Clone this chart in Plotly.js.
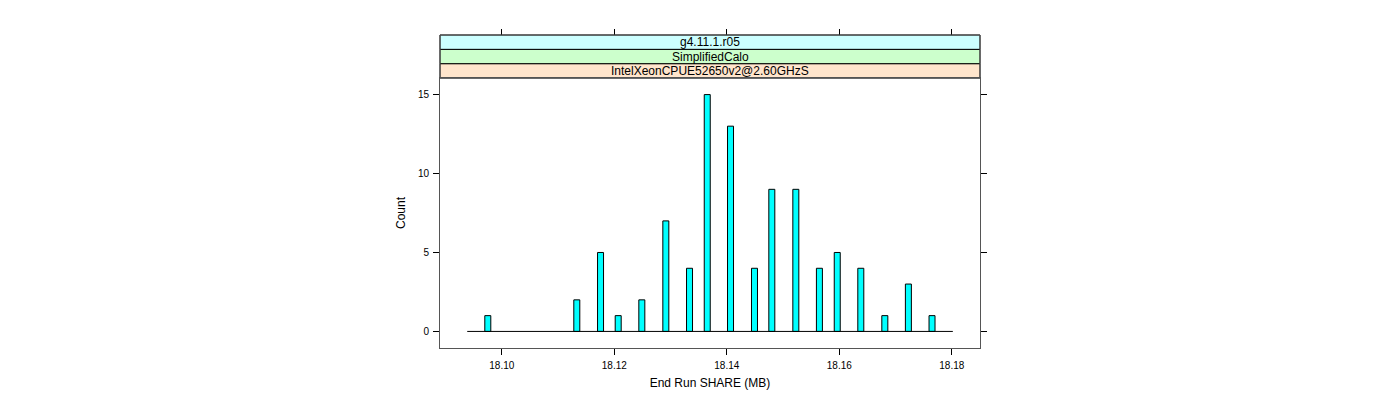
<!DOCTYPE html>
<html>
<head>
<meta charset="utf-8">
<script src="https://cdn.plot.ly/plotly-3.0.1.min.js"></script>
<style>
  html, body { margin: 0; padding: 0; background: #ffffff; }
  #chart { width: 1400px; height: 400px; }
</style>
</head>
<body>
<div id="chart"></div>
<script>
// ---- data ----
const binCenters = [18.09751, 18.11333, 18.11755, 18.12069, 18.12489, 18.12916, 18.13337, 18.13652,
                    18.14066, 18.14492, 18.14800, 18.15227, 18.15646, 18.15963, 18.16382, 18.16809,
                    18.17228, 18.17648];
const counts     = [1, 2, 5, 1, 2, 7, 4, 15, 13, 4, 9, 9, 4, 5, 4, 1, 3, 1];
const binWidth   = 0.001067;
const histRange  = [18.09385, 18.18018];      // first / last break of the histogram
const xTickVals  = [18.10, 18.12, 18.14, 18.16, 18.18];
const xTickText  = ['18.10', '18.12', '18.14', '18.16', '18.18'];
const yTickVals  = [0, 5, 10, 15];
const yTickText  = ['0', '5', '10', '15'];
const stripLabels = ['IntelXeonCPUE52650v2@2.60GHzS', 'SimplifiedCalo', 'g4.11.1.r05'];
const stripColors = ['#ffe5cc', '#ccffcc', '#ccffff'];
const xTitle = 'End Run SHARE (MB)';
const yTitle = 'Count';

// ---- layout constants ----
const FONT = '"Liberation Sans", Arial, Helvetica, sans-serif';
const xRange = [18.08901, 18.18501];
const yRange = [-1.05, 16.05];
const panelTop = 0.8626;               // paper fraction where panel ends and strips start
const stripH = (1 - panelTop) / 3;
const frameCol = '#555555';

const bars = {
  type: 'bar',
  x: binCenters,
  y: counts,
  width: binCenters.map(() => binWidth),
  marker: { color: '#00ffff', line: { color: '#000000', width: 1 } },
  xaxis: 'x', yaxis: 'y',
  hoverinfo: 'x+y',
  showlegend: false
};

const baseline = {
  type: 'scatter',
  mode: 'lines',
  x: histRange,
  y: histRange.map(() => 0),
  line: { color: '#000000', width: 1 },
  xaxis: 'x2', yaxis: 'y',
  hoverinfo: 'skip',
  showlegend: false
};

const shapes = [];
const annotations = [];
stripLabels.forEach((lab, i) => {
  const y0 = panelTop + i * stripH;
  const y1 = y0 + stripH;
  shapes.push({
    type: 'rect', xref: 'paper', yref: 'paper', x0: 0, x1: 1, y0: y0, y1: y1,
    fillcolor: stripColors[i], line: { color: '#000000', width: 1 }, layer: 'below'
  });
  annotations.push({
    xref: 'paper', yref: 'paper', x: 0.5, y: (y0 + y1) / 2, xanchor: 'center', yanchor: 'middle',
    text: lab, showarrow: false, font: { family: FONT, size: 12, color: '#000000' }
  });
});
// outer frame of strips
shapes.push({
  type: 'rect', xref: 'paper', yref: 'paper', x0: 0, x1: 1, y0: panelTop, y1: 1,
  fillcolor: 'rgba(0,0,0,0)', line: { color: frameCol, width: 1 }, layer: 'above'
});

const layout = {
  width: 1400, height: 400,
  margin: { l: 440, r: 420, t: 35, b: 52, pad: 0 },
  paper_bgcolor: '#ffffff', plot_bgcolor: '#ffffff',
  font: { family: FONT, size: 10, color: '#000000' },
  bargap: 0,
  showlegend: false,
  xaxis: {
    range: xRange, domain: [0, 1],
    tickmode: 'array', tickvals: xTickVals, ticktext: xTickText,
    ticks: 'outside', ticklen: 6, tickwidth: 1, tickcolor: '#000000',
    ticklabelstandoff: 2,
    tickfont: { family: FONT, size: 10, color: '#000000' },
    showline: true, linecolor: frameCol, linewidth: 1, mirror: true,
    showgrid: false, zeroline: false,
    title: { text: xTitle, font: { family: FONT, size: 12, color: '#000000' }, standoff: 8 },
    automargin: false
  },
  xaxis2: {
    range: xRange, overlaying: 'x', side: 'top', anchor: 'free', position: 1,
    tickmode: 'array', tickvals: xTickVals, ticktext: xTickText,
    ticks: 'outside', ticklen: 6, tickwidth: 1, tickcolor: '#000000',
    showticklabels: false, showline: false, showgrid: false, zeroline: false,
    automargin: false
  },
  yaxis: {
    range: yRange, domain: [0, panelTop],
    tickmode: 'array', tickvals: yTickVals, ticktext: yTickText,
    ticks: 'outside', ticklen: 6, tickwidth: 1, tickcolor: '#000000',
    ticklabelstandoff: 2,
    tickfont: { family: FONT, size: 10, color: '#000000' },
    showline: true, linecolor: frameCol, linewidth: 1, mirror: 'ticks',
    showgrid: false, zeroline: false,
    title: { text: yTitle, font: { family: FONT, size: 12, color: '#000000' }, standoff: 9 },
    automargin: false
  },
  shapes: shapes,
  annotations: annotations
};

Plotly.newPlot('chart', [bars, baseline], layout, { displayModeBar: false, staticPlot: true });
</script>
</body>
</html>
